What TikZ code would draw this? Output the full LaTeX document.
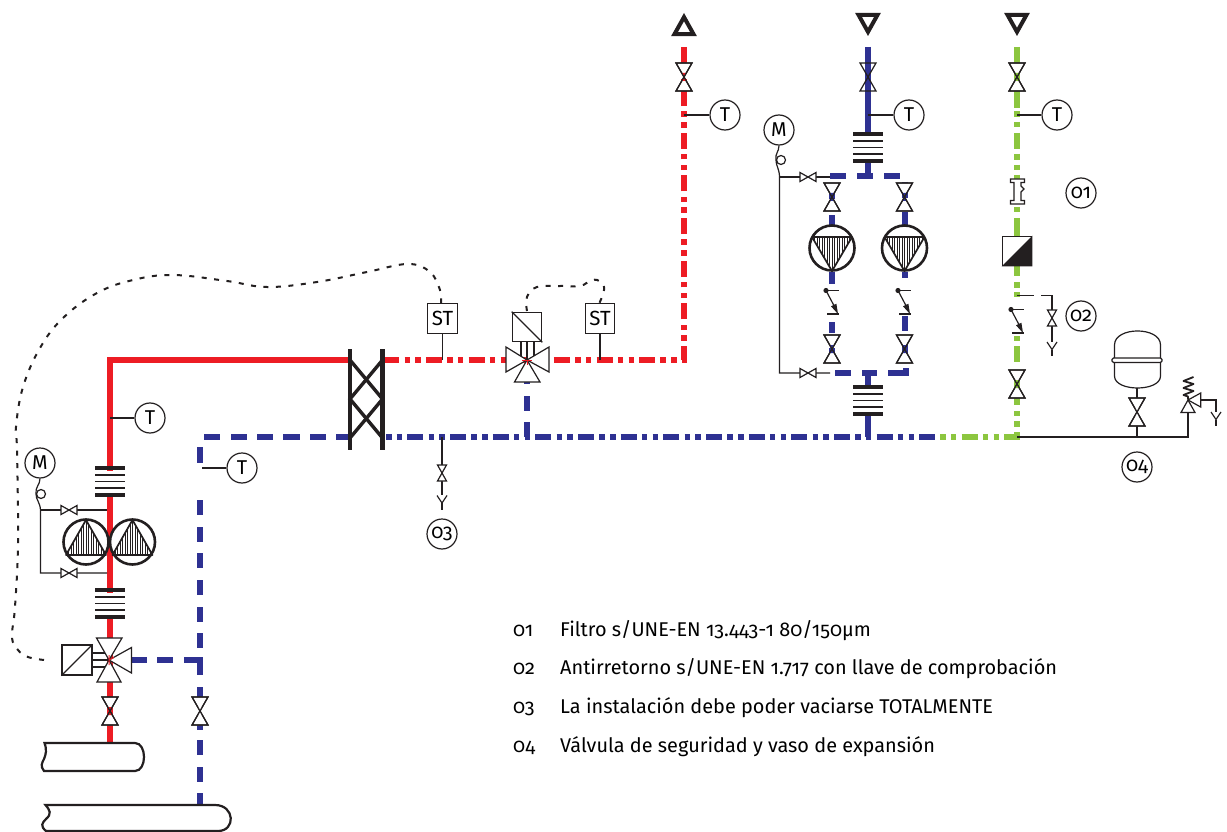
\documentclass[tikz,border=0pt]{standalone}
\usepackage{fontspec}
\setmainfont[Numbers=OldStyle]{Fira Sans}
\usetikzlibrary{arrows.meta}
\definecolor{pred}{HTML}{ED1C24}
\definecolor{pblue}{HTML}{2E3192}
\definecolor{pgreen}{HTML}{8CC63F}
\definecolor{ink}{HTML}{231F20}
\tikzset{
 x=1pt,y=-1pt,
 thin line/.style={draw=ink,line width=1.2pt},
 symbol/.style={draw=ink,line width=1.2pt,fill=white,line join=miter},
 redpipe/.style={draw=pred,line width=6pt},
 bluepipe/.style={draw=pblue,line width=6pt},
 greenpipe/.style={draw=pgreen,line width=6pt},
 dashdot/.style={dash pattern=on 16pt off 5.22pt on 5.5pt off 5.22pt on 5.5pt off 5.22pt},
 signal/.style={draw=ink,line width=2pt,dash pattern=on 5pt off 7.5pt},
 bubble/.style={circle,draw=ink,line width=1.2pt,fill=white,minimum size=30pt,inner sep=0pt,font=\fontsize{20}{20}\selectfont\addfontfeatures{Numbers=OldStyle}},
 stbox/.style={draw=ink,line width=1.2pt,fill=white,minimum size=29.5pt,inner sep=0pt,font=\fontsize{20.5}{20}\selectfont},
 legend/.style={anchor=base west,inner sep=0pt,font=\fontsize{19.9}{19}\selectfont},
 flange/.style={draw=ink,line width=3.5pt},
 vvalve/.pic={
  \path[symbol] (-8,-14)--(8,-14)--(-8,14)--(8,14)--cycle;
  \fill[#1] (-2,-4)--(2,-4)--(-2,4)--(2,4)--cycle;
  \draw[thin line] (-8,-14)--(8,-14)--(-8,14)--(8,14)--cycle;
 },
 vvalve/.default=white,
 openvalve/.pic={\draw[thin line] (-8,-14)--(8,-14)--(-8,14)--(8,14)--cycle;},
 smallv/.pic={\path[symbol] (-4.5,-8)--(4.5,-8)--(-4.5,8)--(4.5,8)--cycle;},
 smallh/.pic={\path[symbol] (-8,-4.5)--(-8,4.5)--(8,-4.5)--(8,4.5)--cycle;},
 damper/.pic={
  \draw[flange] (-15,-13.5)--(15,-13.5);
  \draw[flange] (-15,13.5)--(15,13.5);
  \path[fill=white] (-15,-11)rectangle(15,11);
  \foreach \d in {-6.5,0,6.5}{\draw[thin line] (-15,\d)--(15,\d);}
 },
 pumpup/.pic={
  \path[fill=white] (0,0) circle (23);
  \begin{scope}
   \clip (0,-22)--(20,13)--(-20,13)--cycle;
   \foreach \d in {-20,-17.5,...,20}{\draw[ink,line width=.9pt] (\d,-23)--(\d,14);}
  \end{scope}
  \draw[ink,line width=1.7pt,line join=round] (0,-22)--(20,13)--(-20,13)--cycle;
  \draw[ink,line width=2.6pt] (0,0) circle (22.5);
 },
 pumpdown/.pic={
  \path[fill=white] (0,0) circle (23);
  \begin{scope}
   \clip (0,23)--(20,-11)--(-20,-11)--cycle;
   \foreach \d in {-20,-17.5,...,20}{\draw[ink,line width=.9pt] (\d,-12)--(\d,23);}
  \end{scope}
  \draw[ink,line width=1.7pt,line join=round] (0,23)--(20,-11)--(-20,-11)--cycle;
  \draw[ink,line width=2.6pt] (0,0) circle (22.5);
 },
 checkv/.pic={
  \draw[thin line] (-6,0)--(7,0);
  \fill[ink] (-6,0) circle (2.6);
  \draw[thin line] (-6,0)--(4,19);
  \fill[ink] (6,23.5)--(-1,15.8)--(4.4,13.2)--cycle;
  \draw[thin line] (-5,23.5)--(7,23.5);
 },
 drainy/.pic={
  \draw[thin line] (-5,0)--(0,7.5)--(5,0);
  \draw[thin line] (0,7.5)--(0,14);
 },
 endup/.pic={\draw[ink,line width=4pt,line join=miter] (0,-8.5)--(9.5,8.5)--(-9.5,8.5)--cycle;},
 enddown/.pic={\draw[ink,line width=4pt,line join=miter] (0,8.5)--(9.5,-8.5)--(-9.5,-8.5)--cycle;},
 tankend/.style={draw=ink,line width=2.2pt,fill=white},
}
\begin{document}
\begin{tikzpicture}
\useasboundingbox (0,0) rectangle (1227,832);
\fill[white] (0,0) rectangle (1227,832);

% ---------- signal lines
\draw[signal] plot[smooth,tension=.65] coordinates {(44,660)(28,657)(18,650)(12,637)(15,607)(18,543)(17,450)(16,427)(23,387)(40,348)(63,318)(97,293)(133,280)(173,275)(227,281)(267,287)(317,282)(367,272)(408,264)(430,272)(440,290)(441,303)};
\draw[signal] plot[smooth,tension=.7] coordinates {(527,311)(527,297)(537,287)(560,286)(580,286)(592,280)(601,282)(604,290)(599,304)};

% ---------- pipes: red
\draw[redpipe,line join=miter] (110,743)--(110,360)--(350,360);
\draw[redpipe,dashdot,line join=miter] (383.3,360)--(684,360)--(684,47);

% ---------- pipes: blue left
\foreach \a/\b in {204/220,231/247,257/273,283/300,310/326,336/350}{\draw[bluepipe] (\a,437)--(\b,437);}
\foreach \a/\b in {447/463,500/515,527/542,553/568,580/595,607/622,633/648,687/698,725/730,740/755,767/782,793/805}{\draw[bluepipe] (200,\a)--(200,\b);}
\foreach \a/\b in {131/147,157/173}{\draw[bluepipe] (\a,660)--(\b,660);}
\draw[bluepipe,line join=miter] (184,660)--(200,660)--(200,675);

% ---------- pipes: blue centre
\draw[bluepipe,dashdot,dash phase=21.22pt] (386,437)--(935,437);
\draw[greenpipe,dashdot,dash phase=21.22pt] (940.2,437)--(1020,437);
\foreach \a/\b in {382/384,396/411,422/437}{\draw[bluepipe] (527,\a)--(527,\b);}
\draw[bluepipe] (868,47)--(868,134);
\draw[bluepipe] (868,161)--(868,176);
\draw[bluepipe] (868,400)--(868,437);
\draw[bluepipe] (868,373)--(868,387);
\foreach \a/\b in {830/846,857/873,884/900}{\draw[bluepipe] (\a,176)--(\b,176);}
\foreach \a/\b in {835/851,862/877}{\draw[bluepipe] (\a,373)--(\b,373);}
\draw[bluepipe,line join=miter] (888,373)--(906,373)--(906,368);
\foreach \a/\b in {194/199,215/225,272/284,322/333,348/363}{\draw[bluepipe] (832,\a)--(832,\b);}
\foreach \a/\b in {182/185,193/198,212/225,272/278,316/331,345/360}{\draw[bluepipe] (904.5,\a)--(904.5,\b);}

% ---------- pipes: green
\foreach \a/\b in {47/108,111.5/117,122/127,133/149,154/160,165/170,175/191,196/202,207/212,218/236,266/276,282/288,292/297,336/341,346/362,370/405,411/416,421/427,432/437}{\draw[greenpipe] (1017,\a)--(1017,\b);}

% ---------- end triangles
\pic at (684,25.6) {endup};
\pic at (868,23.4) {enddown};
\pic at (1017,23.4) {enddown};

% ---------- temperature bubbles
\node[bubble] (t1) at (150,418) {T};
\node[bubble] (t2) at (242,468) {T};
\node[bubble] (t3) at (725,115) {T};
\node[bubble] (t4) at (909,115) {T};
\node[bubble] (t5) at (1057,115) {T};
\coordinate (t1p) at (110,418);\coordinate (t2p) at (202,468);\coordinate (t3p) at (684,115);\coordinate (t4p) at (868,115);\coordinate (t5p) at (1017,115);
\draw[thin line] (t1p)--(t1);\draw[thin line] (t2p)--(t2);\draw[thin line] (t3p)--(t3);\draw[thin line] (t4p)--(t4);\draw[thin line] (t5p)--(t5);

% ---------- valves on risers
\pic at (684,77) {vvalve=pred};
\pic at (868,77) {openvalve};
\pic at (1017,77) {vvalve=pgreen};
\pic at (110,711) {vvalve=pred};
\pic at (200,711) {vvalve=white};
\pic at (832,197) {vvalve=pblue};
\pic at (904.5,197) {vvalve=pblue};
\pic at (832,349) {vvalve=pblue};
\pic at (904.5,349) {vvalve=pblue};
\pic at (1017,384) {vvalve=pgreen};

% ---------- dampers
\pic at (110,481.5) {damper};
\pic at (110,603.5) {damper};
\pic at (868,147.5) {damper};
\pic at (868,400.5) {damper};

% ---------- left pumps and manometer
\node[bubble] (m1) at (40,463) {M};
\node[draw=ink,line width=1.2pt,circle,minimum size=9pt,inner sep=0pt] (mc1) at (41,494) {};
\draw[thin line] (m1.south) .. controls (40,485) and (35,487) .. (36,494) .. controls (36,500) and (40,502) .. (40.5,510)--(40.5,573)--(107,573);
\draw[thin line] (40.5,510)--(107,510);
\pic at (69,510) {smallh};
\pic at (69,573) {smallh};
\pic at (86,542) {pumpup};
\pic at (132.5,542) {pumpup};

% ---------- three-way valve, left
\draw[thin line] (92,653)--(109,653) (92,660)--(109,660) (92,667)--(109,667);
\node[stbox,minimum size=30pt] (act1) at (77,660) {};
\draw[thin line] (act1.south west)--(act1.north east);
\path[symbol] (109,660)--(96.5,638)--(122,638)--cycle;
\path[symbol] (109,660)--(97,682)--(121,682)--cycle;
\path[symbol] (109,660)--(131.5,647.5)--(131.5,673)--cycle;
\draw[pred,line width=1pt] (109,655)--(109,665) (109,660)--(114,657.5);

% ---------- tanks
\draw[tankend] (44.5,743)--(135,743) .. controls (147,743) and (147,771) .. (135,771)--(44,771)
  .. controls (40,766) and (42,763) .. (44,759) .. controls (46,754) and (47,750) .. (44.5,743)--cycle;
\draw[tankend] (45.5,805)--(215,805) .. controls (235,805) and (236,831) .. (218,831)--(46,831)
  .. controls (40,826) and (42,823) .. (46,819) .. controls (52,814) and (50,810) .. (45.5,805)--cycle;

% ---------- heat exchanger
\draw[ink,line width=4.4pt] (350,349)--(350,450);
\draw[ink,line width=4.4pt] (382.5,349)--(382.5,450);
\draw[ink,line width=3.4pt] (350,360)--(382.5,399)--(350,438);
\draw[ink,line width=3.4pt] (382.5,360)--(350,399)--(382.5,438);

% ---------- sensors ST
\node[stbox] (st1) at (442.5,318.5) {ST};
\node[stbox] (st2) at (600,318.5) {ST};
\coordinate (st1p) at (442.5,360);\coordinate (st2p) at (600,360);
\draw[thin line] (st1)--(st1p);\draw[thin line] (st2)--(st2p);

% ---------- three-way valve, centre
\draw[thin line] (521,342)--(521,360) (527,342)--(527,360) (534,342)--(534,360);
\node[stbox] (act2) at (527,327) {};
\draw[thin line] (act2.north west)--(act2.south east);
\path[symbol] (527,360)--(506,347)--(506,372)--cycle;
\path[symbol] (527,360)--(549,347)--(549,372)--cycle;
\path[symbol] (527,360)--(514.5,382)--(540,382)--cycle;
\draw[pred,line width=1pt] (522,360)--(532,360) (527,360)--(527,365);

% ---------- drain 03
\coordinate (d3) at (442,437);
\coordinate (d3b) at (442,495);
\draw[thin line] (d3)--(d3b);
\pic at (442,473) {smallv};
\pic at (442,495.5) {drainy};
\node[bubble] (n3) at (442,534) {03};

% ---------- centre pumps
\node[bubble] (m2) at (779,130) {M};
\node[draw=ink,line width=1.2pt,circle,minimum size=9pt,inner sep=0pt] (mc2) at (781,160) {};
\draw[thin line] (m2.south) .. controls (779,152) and (775,153) .. (776,160) .. controls (776,166) and (779,168) .. (779.5,176)--(779.5,373)--(830,373);
\draw[thin line] (779.5,177)--(830,177);
\pic at (808,177) {smallh};
\pic at (808,373) {smallh};
\pic at (832,248) {pumpdown};
\pic at (904.5,248) {pumpdown};
\pic at (832,290.5) {checkv};
\pic at (904,290.5) {checkv};

% ---------- green line fittings
\draw[symbol] (1010.5,179)--(1024.5,179)--(1024.5,182.5)--(1021,182.5)--(1021,186)--(1024,189)--(1021,192)--(1021,200.5)--(1024.5,200.5)--(1024.5,204)--(1010.5,204)--(1010.5,200.5)--(1014,200.5)--(1014,182.5)--(1010.5,182.5)--cycle;
\node[draw=ink,line width=1.2pt,fill=white,minimum size=29.5pt,inner sep=0pt] (flt) at (1017,251) {};
\fill[ink] (flt.south west)--(flt.north east)--(flt.south east)--cycle;
\node[bubble] (n1) at (1081,193) {01};
\coordinate (br) at (1017,295.5);\coordinate (brend) at (1034,295.5);
\coordinate (br2) at (1041,295.5);
\draw[thin line] (br)--(brend);
\draw[thin line] (br2)--(1052,295.5)--(1052,342);
\pic at (1052,318) {smallv};
\pic at (1052,342) {drainy};
\node[bubble] (n2) at (1081,316) {02};
\pic at (1017,309.5) {checkv};

% ---------- expansion branch
\coordinate (j0) at (1017,437);
\coordinate (j1) at (1188,437);
\draw[thin line] (j0)--(j1)--(1188,411);
\draw[thin line] (1137,388)--(1137,437);
\pic at (1137,412) {vvalve=white};
\draw[symbol] (1114.5,345) .. controls (1114.5,326.3) and (1160.5,326.3) .. (1160.5,345)--(1160.5,376) .. controls (1160.5,392) and (1114.5,392) .. (1114.5,376)--cycle;
\draw[symbol,rounded corners=1.5pt] (1112,358)rectangle(1162,362.5);
\node[bubble] (n4) at (1137,467) {04};
\path[symbol] (1188,400)--(1181,412.5)--(1195,412.5)--cycle;
\path[symbol] (1188,400)--(1200.7,393)--(1200.7,407)--cycle;
\draw[ink,line width=1.8pt,line join=round] (1188,399)--(1188,396.5)--(1183.5,395)--(1193.5,391)--(1183.5,388)--(1193.5,384)--(1183.5,381)--(1193.5,377);
\draw[thin line] (1200.7,400)--(1216,400)--(1216,412);
\pic at (1216,412) {drainy};

% ---------- legend
\node[legend] (l1n) at (513,636) {01};\node[legend] (l1) at (560,636) {Filtro s/UNE-EN 13.443-1 80/150μm};
\node[legend] (l2n) at (513,674) {02};\node[legend] (l2) at (560,674) {Antirretorno s/UNE-EN 1.717 con llave de comprobación};
\node[legend] (l3n) at (513,713) {03};\node[legend] (l3) at (560,713) {La instalación debe poder vaciarse TOTALMENTE};
\node[legend] (l4n) at (513,752) {04};\node[legend] (l4) at (560,752) {Válvula de seguridad y vaso de expansión};
\end{tikzpicture}
\end{document}
